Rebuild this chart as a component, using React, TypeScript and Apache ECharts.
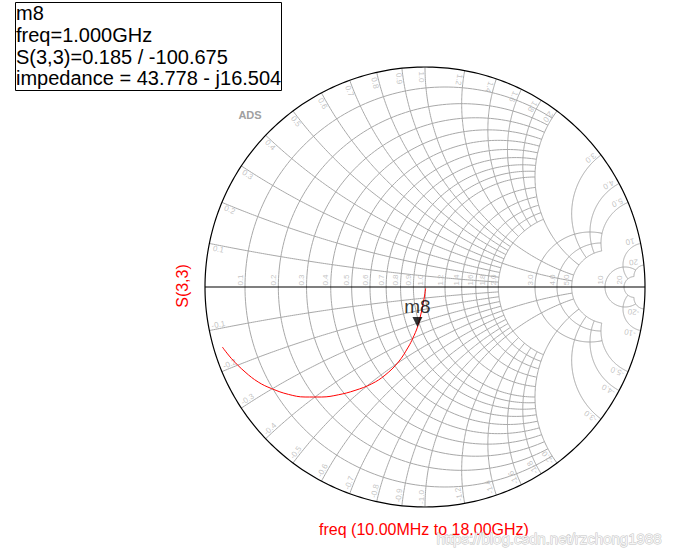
import React, { useEffect, useRef } from "react";
import * as echarts from "echarts";

// ---- Smith chart grid levels (labels drawn on the chart) ----
const resistanceFine = [0.1, 0.2, 0.3, 0.4, 0.5, 0.6, 0.7, 0.8, 0.9, 1.0, 1.2, 1.4, 1.6, 1.8, 2.0];
const resistanceMid = [3, 4, 5];
const resistanceCoarse = [10, 20];
const reactanceFine = [0.1, 0.2, 0.3, 0.4, 0.5, 0.6, 0.7, 0.8, 0.9, 1.0, 1.2, 1.4, 1.6, 1.8, 2.0];
const reactanceFineMajor = [0.5, 1.0, 2.0];
const reactanceMid = [3, 4, 5];
const reactanceCoarse = [10, 20];
// clipping limits of the hierarchical grid
const limitFineR = 2;
const limitFineX = 2;
const limitMajorX = 5;
const limitMid = 5;
const limitCoarse = 20;

// ---- S(3,3) trace, 10 MHz -> 18 GHz (reflection coefficient, real / imag) ----
const s33Re = [0.003, -0.008, -0.023, -0.034, -0.055, -0.076, -0.121, -0.182, -0.242, -0.318, -0.394, -0.47, -0.545, -0.621, -0.697, -0.758, -0.818, -0.879, -0.921];
const s33Im = [-0.006, -0.074, -0.141, -0.182, -0.232, -0.273, -0.341, -0.401, -0.44, -0.47, -0.49, -0.5, -0.5, -0.488, -0.462, -0.432, -0.386, -0.326, -0.273];

// ---- marker m8 ----
const markerName = "m8";
const markerFreq = "1.000GHz";
const markerMag = 0.185;
const markerAngleDeg = -100.675;
const markerImpedance = "43.778 - j16.504";

const FONT = "'Liberation Sans', Arial, sans-serif";
const RPX = 220; // pixel radius of the unit circle
const SPAN = 1.1;

function gamma(r: number, x: number): [number, number] {
  const d = (r + 1) * (r + 1) + x * x;
  return [(r * r + x * x - 1) / d, (2 * x) / d];
}

function rCircle(r: number, xLim: number, n = 180): number[][] {
  const c = r / (r + 1);
  const rho = 1 / (r + 1);
  const g = gamma(r, xLim);
  const phi = Math.atan2(g[1], g[0] - c);
  const pts: number[][] = [];
  for (let i = 0; i <= n; i++) {
    const a = phi + ((2 * Math.PI - 2 * phi) * i) / n;
    pts.push([c + rho * Math.cos(a), rho * Math.sin(a)]);
  }
  return pts;
}

function xArc(x: number, rFrom: number, rTo: number, n = 140): number[][] {
  const ax = Math.abs(x);
  const cy = 1 / ax;
  const norm = (a: number) => (a < 0 ? a + 2 * Math.PI : a);
  const g0 = gamma(rFrom, ax);
  const g1 = gamma(rTo, ax);
  const a0 = norm(Math.atan2(g0[1] - cy, g0[0] - 1));
  const a1 = norm(Math.atan2(g1[1] - cy, g1[0] - 1));
  const pts: number[][] = [];
  for (let i = 0; i <= n; i++) {
    const a = a0 + ((a1 - a0) * i) / n;
    const px = 1 + cy * Math.cos(a);
    const py = cy + cy * Math.sin(a);
    pts.push([px, x < 0 ? -py : py]);
  }
  return pts;
}

function fmt(v: number): string {
  const a = Math.abs(v);
  const s = a >= 10 ? String(a) : a.toFixed(1);
  return v < 0 ? "-" + s : s;
}

export default function App() {
  const ref = useRef<HTMLDivElement>(null);

  useEffect(() => {
    document.body.style.margin = "0";
    if (!ref.current) return;
    const chart = echarts.init(ref.current, undefined, { renderer: "svg" });

    const gridLines: { coords: number[][] }[] = [];
    const addX = (x: number, lim: number) => {
      gridLines.push({ coords: xArc(x, 0, lim) });
      gridLines.push({ coords: xArc(-x, 0, lim) });
    };
    resistanceFine.forEach((r) => gridLines.push({ coords: rCircle(r, limitFineR) }));
    reactanceFine.forEach((x) => addX(x, reactanceFineMajor.includes(x) ? limitMajorX : limitFineX));
    resistanceMid.forEach((r) => gridLines.push({ coords: rCircle(r, limitMid) }));
    reactanceMid.forEach((x) => addX(x, limitMid));
    resistanceCoarse.forEach((r) => gridLines.push({ coords: rCircle(r, limitCoarse) }));
    reactanceCoarse.forEach((x) => addX(x, limitCoarse));

    const outer: number[][] = [];
    for (let i = 0; i <= 360; i++) {
      const a = (i * Math.PI) / 180;
      outer.push([Math.cos(a), Math.sin(a)]);
    }

    const allR = [...resistanceFine, ...resistanceMid, ...resistanceCoarse];
    const allX = [...reactanceFine, ...reactanceMid, ...reactanceCoarse];
    const labelData: any[] = [];
    allR.forEach((r) => {
      const g = gamma(r, 0);
      labelData.push({ name: fmt(r), value: [g[0] - 5 / RPX, 7 / RPX], label: { rotate: 90 } });
    });
    allX.forEach((xv) => {
      [xv, -xv].forEach((x) => {
        const g = gamma(0, x);
        const th = Math.atan2(g[1], g[0]);
        const s = x > 0 ? 1 : -1;
        const inward = 10 / RPX;
        const side = 4 / RPX;
        const px = Math.cos(th) * (1 - inward) + s * -Math.sin(th) * side;
        const py = Math.sin(th) * (1 - inward) + s * Math.cos(th) * side;
        let rot = ((th + Math.PI) * 180) / Math.PI;
        while (rot > 180) rot -= 360;
        labelData.push({ name: fmt(x), value: [px, py], label: { rotate: rot } });
      });
    });

    const mRe = markerMag * Math.cos((markerAngleDeg * Math.PI) / 180);
    const mIm = markerMag * Math.sin((markerAngleDeg * Math.PI) / 180);

    const gridSize = 2 * RPX * SPAN;
    chart.setOption({
      animation: false,
      grid: { left: 425 - gridSize / 2, top: 287 - gridSize / 2, width: gridSize, height: gridSize },
      xAxis: { type: "value", min: -SPAN, max: SPAN, show: false },
      yAxis: { type: "value", min: -SPAN, max: SPAN, show: false },
      series: [
        {
          type: "lines",
          coordinateSystem: "cartesian2d",
          polyline: true,
          silent: true,
          data: gridLines,
          lineStyle: { color: "#a8a8a8", width: 1, opacity: 1 },
          z: 1,
        },
        {
          type: "lines",
          coordinateSystem: "cartesian2d",
          polyline: true,
          silent: true,
          data: [{ coords: outer }, { coords: [[-1, 0], [1, 0]] }],
          lineStyle: { color: "#000000", width: 1.2, opacity: 1 },
          z: 2,
        },
        {
          type: "scatter",
          silent: true,
          symbolSize: 1,
          itemStyle: { color: "rgba(0,0,0,0)" },
          data: labelData,
          label: {
            show: true,
            position: "inside",
            formatter: "{b}",
            fontSize: 8,
            fontFamily: FONT,
            color: "#b4b4b4",
            align: "center",
            verticalAlign: "middle",
          },
          emphasis: { disabled: true },
          z: 3,
        },
        {
          type: "line",
          silent: true,
          data: s33Re.map((re, i) => [re, s33Im[i]]),
          smooth: 0.4,
          showSymbol: false,
          lineStyle: { color: "#ff0000", width: 1 },
          z: 4,
        },
        {
          type: "scatter",
          silent: true,
          data: [[mRe, mIm]],
          symbol: "path://M0,0 L10,0 L5,10 Z",
          symbolSize: [10, 10],
          symbolOffset: [0, "-50%"],
          itemStyle: { color: "#000000" },
          label: {
            show: true,
            position: "top",
            distance: 1,
            formatter: markerName,
            fontSize: 19,
            fontFamily: FONT,
            color: "#000000",
          },
          emphasis: { disabled: true },
          z: 5,
        },
      ],
      graphic: [
        {
          type: "rect",
          shape: { x: 15.5, y: 2.5, width: 266, height: 88 },
          style: { fill: "#ffffff", stroke: "#000000", lineWidth: 1 },
          z: 10,
        },
        ...[
          markerName,
          "freq=" + markerFreq,
          "S(3,3)=" + markerMag.toFixed(3) + " / " + markerAngleDeg.toFixed(3),
          "impedance = " + markerImpedance,
        ].map((t, i) => ({
          type: "text",
          x: 16,
          y: 13 + i * 21.8,
          style: { text: t, fontSize: 20, fontFamily: FONT, fill: "#000000", textVerticalAlign: "middle" },
          z: 11,
        })),
        {
          type: "text",
          x: 250,
          y: 115,
          style: { text: "ADS", fontSize: 11, fontWeight: "bold", fontFamily: FONT, fill: "#a0a0a0", textAlign: "center", textVerticalAlign: "middle" },
        },
        {
          type: "text",
          x: 182,
          y: 286,
          rotation: Math.PI / 2,
          style: { text: "S(3,3)", fontSize: 16, fontFamily: FONT, fill: "#ff0000", textAlign: "center", textVerticalAlign: "middle" },
        },
        {
          type: "text",
          x: 424,
          y: 529,
          style: { text: "freq (10.00MHz to 18.00GHz)", fontSize: 16, fontFamily: FONT, fill: "#ff0000", textAlign: "center", textVerticalAlign: "middle" },
        },
        {
          type: "text",
          x: 549,
          y: 538,
          style: {
            text: "https://blog.csdn.net/rzchong1988",
            fontSize: 15,
            fontFamily: FONT,
            fill: "#f6f6f6",
            stroke: "#c4c4c4",
            lineWidth: 1,
            textAlign: "center",
            textVerticalAlign: "middle",
          },
          z: 20,
        },
      ],
    });

    return () => chart.dispose();
  }, []);

  return <div ref={ref} style={{ width: 679, height: 556 }} />;
}
